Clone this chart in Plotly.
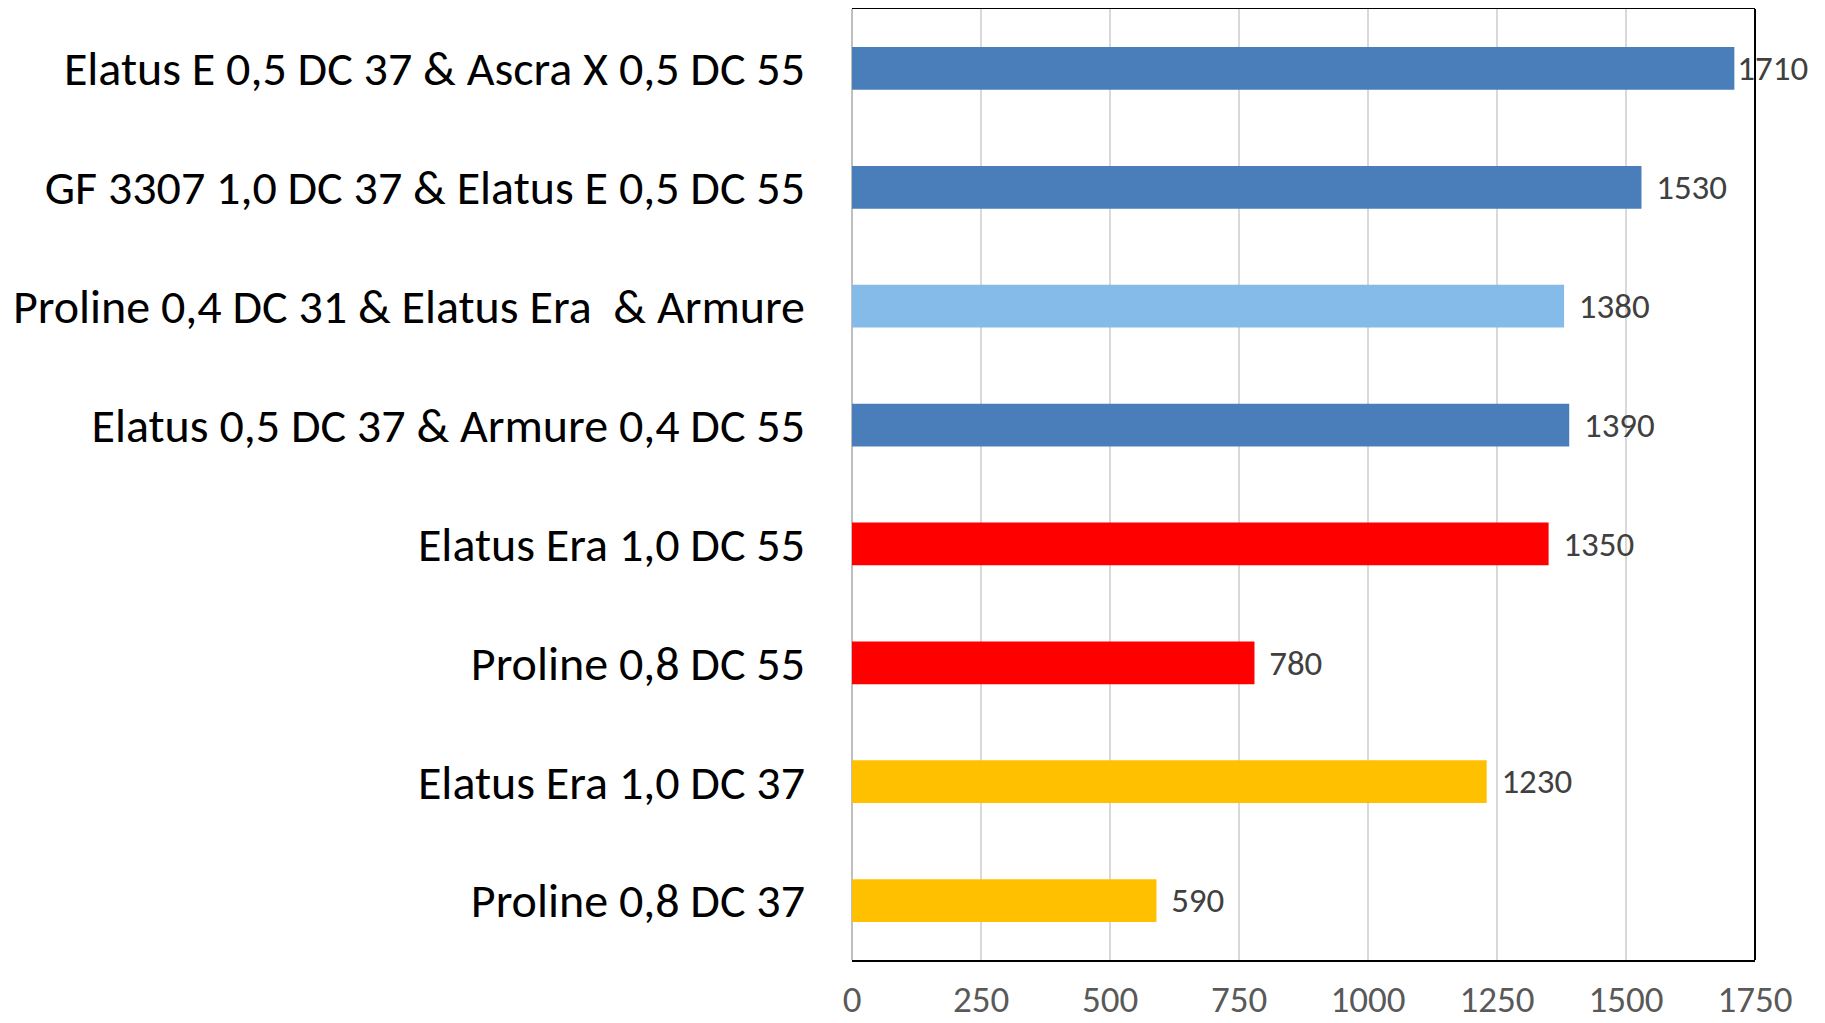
import plotly.graph_objects as go

# bottom to top, as drawn
treatments = [
    "Proline 0,8 DC 37",
    "Elatus Era 1,0 DC 37",
    "Proline 0,8 DC 55",
    "Elatus Era 1,0 DC 55",
    "Elatus 0,5 DC 37 & Armure 0,4 DC 55",
    "Proline 0,4 DC 31 & Elatus Era\u00a0 & Armure",
    "GF 3307 1,0 DC 37 & Elatus E 0,5 DC 55",
    "Elatus E 0,5 DC 37 & Ascra X 0,5 DC 55",
]
values = [590, 1230, 780, 1350, 1390, 1380, 1530, 1710]
bar_colors = ["#FFC000", "#FFC000", "#FF0000", "#FF0000",
              "#4A7EBB", "#85BBE8", "#4A7EBB", "#4A7EBB"]
tick_vals = [0, 250, 500, 750, 1000, 1250, 1500, 1750]

FONT = "Carlito, Lato, sans-serif"

# excel pulls the label that would overflow the frame closer to its bar
labels = [("" if v == max(values) else "\u2004") + str(v) for v in values]

fig = go.Figure()
fig.add_trace(go.Bar(
    x=values,
    y=treatments,
    orientation="h",
    marker=dict(color=bar_colors, line=dict(width=0)),
    text=labels,
    textposition="outside",
    textfont=dict(family=FONT, size=40, color="#404040"),
    cliponaxis=False,
    showlegend=False,
))

# page body adds an 8px offset, so the figure is sized to the remaining window
fig.update_layout(
    width=1817, height=1015,
    margin=dict(l=844, r=70, t=1, b=63),
    plot_bgcolor="white",
    paper_bgcolor="white",
    bargap=0.64,
    font=dict(family=FONT),
)
fig.update_xaxes(
    range=[0, 1750],
    tickvals=tick_vals,
    showgrid=True, gridcolor="#D9D9D9", gridwidth=2,
    zeroline=True, zerolinecolor="#BFBFBF", zerolinewidth=2,
    showline=True, linecolor="black", linewidth=2, mirror=True,
    ticks="", ticklabelstandoff=6,
    tickfont=dict(family=FONT, size=37, color="#595959"),
    automargin=False,
)
fig.update_yaxes(
    categoryorder="array", categoryarray=treatments,
    showgrid=False, showline=False, ticks="",
    ticklabelstandoff=46,
    tickfont=dict(family=FONT, size=48, color="black"),
    automargin=False,
)
# right edge of the frame
fig.add_shape(type="line", xref="paper", yref="paper",
              x0=1, x1=1, y0=0, y1=1,
              line=dict(color="black", width=2))

fig.write_html("out.html")
